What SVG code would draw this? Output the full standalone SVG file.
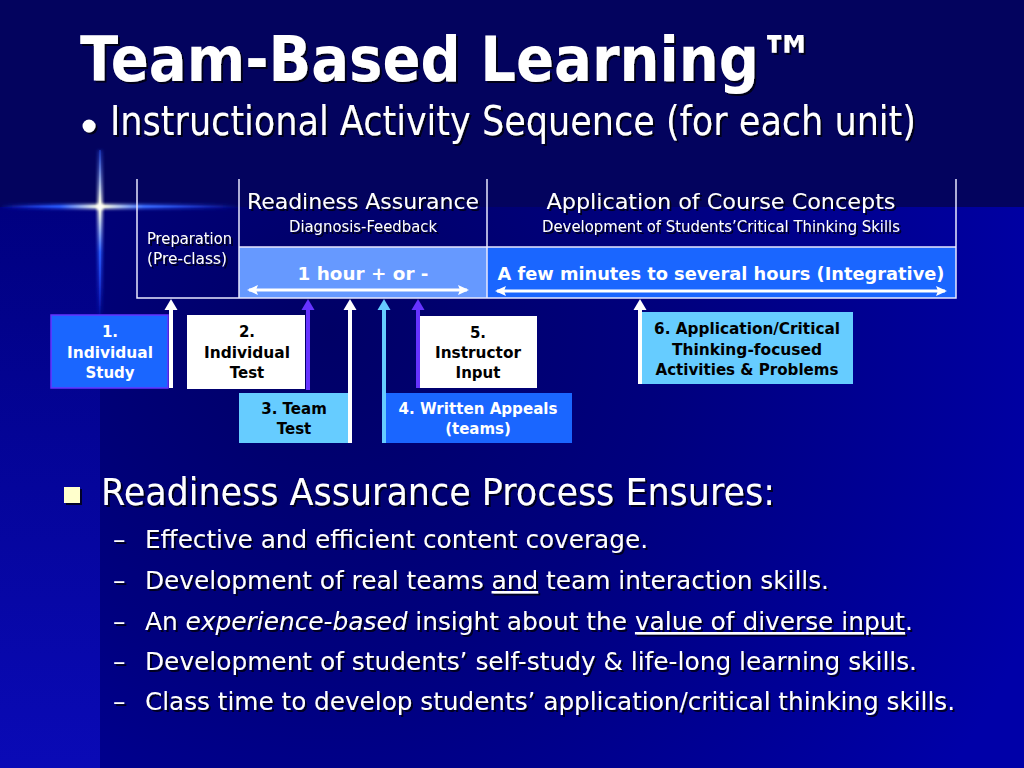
<svg xmlns="http://www.w3.org/2000/svg" width="1024" height="768" viewBox="0 0 1024 768">
<defs>
  <radialGradient id="maing" cx="330" cy="330" r="760" gradientUnits="userSpaceOnUse">
    <stop offset="0" stop-color="#000066"/>
    <stop offset="0.45" stop-color="#00007e"/>
    <stop offset="1" stop-color="#0000a8"/>
  </radialGradient>
  <linearGradient id="leftg" x1="0" y1="207" x2="0" y2="768" gradientUnits="userSpaceOnUse">
    <stop offset="0" stop-color="#000080"/>
    <stop offset="1" stop-color="#0a0ab6"/>
  </linearGradient>
  <linearGradient id="sparkH" x1="0" y1="0" x2="240" y2="0" gradientUnits="userSpaceOnUse">
    <stop offset="0" stop-color="#1a3cff" stop-opacity="0"/>
    <stop offset="0.25" stop-color="#2a5cff" stop-opacity="0.8"/>
    <stop offset="0.42" stop-color="#ffffe0"/>
    <stop offset="0.6" stop-color="#3a6cff" stop-opacity="0.8"/>
    <stop offset="1" stop-color="#1a3cff" stop-opacity="0"/>
  </linearGradient>
  <linearGradient id="sparkV" x1="0" y1="150" x2="0" y2="320" gradientUnits="userSpaceOnUse">
    <stop offset="0" stop-color="#2a5cff" stop-opacity="0.3"/>
    <stop offset="0.33" stop-color="#ffffe0"/>
    <stop offset="0.6" stop-color="#2a5cff" stop-opacity="0.8"/>
    <stop offset="1" stop-color="#1a3cff" stop-opacity="0"/>
  </linearGradient>
  <filter id="shadow" filterUnits="userSpaceOnUse" x="0" y="0" width="1024" height="768">
    <feDropShadow dx="2" dy="2" stdDeviation="0.6" flood-color="#000000" flood-opacity="0.75"/>
  </filter>
  <filter id="glow" x="-50%" y="-50%" width="200%" height="200%">
    <feGaussianBlur stdDeviation="1.5"/>
  </filter>
  <path id="ah" d="M-6.5,11 L0,0 L6.5,11 Z"/>
  <marker id="dbl" markerUnits="userSpaceOnUse" markerWidth="12" markerHeight="10" refX="9" refY="5" orient="auto-start-reverse">
    <path d="M0,0 L11,5 L0,10 L2,5 Z" fill="#ffffff"/>
  </marker>
</defs>
<style>
  .ttl { font-family: "DejaVu Sans", "Liberation Sans", sans-serif; fill: #ffffff; }
  .t { font-family: "DejaVu Sans", "Liberation Sans", sans-serif; fill: #ffffff; }
  .b { font-family: "DejaVu Sans", "Liberation Sans", sans-serif; font-weight: bold; }
  .wt { fill: #ffffff; }
  .bk { fill: #000000; }
  .tl { stroke: #e8e8ff; stroke-width: 1.5; fill: none; }
  .shaft { stroke-width: 4; fill: none; }
</style>

<!-- background -->
<rect width="1024" height="768" fill="#03035e"/>
<rect x="0" y="207" width="100" height="561" fill="url(#leftg)"/>
<rect x="100" y="207" width="924" height="561" fill="url(#maing)"/>

<!-- sparkle decoration -->
<g id="sparkle">
  <rect x="0" y="204" width="240" height="5" fill="url(#sparkH)" filter="url(#glow)"/>
  <rect x="0" y="205.5" width="240" height="2" fill="url(#sparkH)"/>
  <rect x="97.5" y="150" width="5" height="170" fill="url(#sparkV)" filter="url(#glow)"/>
  <rect x="99" y="150" width="2" height="170" fill="url(#sparkV)"/>
  <circle cx="100" cy="207" r="3" fill="#ffffff" filter="url(#glow)"/>
</g>

<!-- title -->
<g id="title" filter="url(#shadow)">
  <text class="ttl" x="80" y="81" font-size="63" font-weight="bold" textLength="735" lengthAdjust="spacingAndGlyphs">Team-Based Learning™</text>
  <circle cx="89" cy="126" r="6.5" fill="#ffffff"/>
  <text class="ttl" x="110" y="135" font-size="40" textLength="806" lengthAdjust="spacingAndGlyphs">Instructional Activity Sequence (for each unit)</text>
</g>

<!-- timeline table -->
<g id="table">
  <rect x="239" y="247" width="248" height="51" fill="#6699ff"/>
  <rect x="487" y="247" width="469" height="51" fill="#1a66ff"/>
  <path class="tl" d="M137,179 V298 H956 V179 M239,179 V298 M487,179 V298 M239,247 H956"/>
  <g filter="url(#shadow)">
    <text class="t" x="363" y="209" font-size="22" text-anchor="middle" textLength="232" lengthAdjust="spacingAndGlyphs">Readiness Assurance</text>
    <text class="t" x="363" y="232" font-size="15.5" text-anchor="middle" textLength="148" lengthAdjust="spacingAndGlyphs">Diagnosis-Feedback</text>
    <text class="t" x="721" y="209" font-size="22" text-anchor="middle" textLength="349" lengthAdjust="spacingAndGlyphs">Application of Course Concepts</text>
    <text class="t" x="721" y="232" font-size="15.5" text-anchor="middle" textLength="358" lengthAdjust="spacingAndGlyphs">Development of Students’Critical Thinking Skills</text>
    <text class="t" x="147" y="244" font-size="15.5" textLength="85" lengthAdjust="spacingAndGlyphs">Preparation</text>
    <text class="t" x="147" y="264" font-size="15.5" textLength="80" lengthAdjust="spacingAndGlyphs">(Pre-class)</text>
  </g>
  <text class="b wt" x="363" y="280" font-size="17.5" text-anchor="middle" textLength="131" lengthAdjust="spacingAndGlyphs">1 hour + or -</text>
  <text class="b wt" x="721" y="280" font-size="17.5" text-anchor="middle" textLength="447" lengthAdjust="spacingAndGlyphs">A few minutes to several hours (Integrative)</text>
  <line x1="249" y1="290" x2="467" y2="290" stroke="#ffffff" stroke-width="3" marker-start="url(#dbl)" marker-end="url(#dbl)"/>
  <line x1="497" y1="291" x2="945" y2="291" stroke="#ffffff" stroke-width="3" marker-start="url(#dbl)" marker-end="url(#dbl)"/>
</g>

<!-- connectors -->
<g id="connectors">
  <path class="shaft" d="M171,388 V309" stroke="#ffffff"/>
  <use href="#ah" x="171" y="299" fill="#ffffff"/>
  <path class="shaft" d="M308,390 V309" stroke="#6633ff"/>
  <use href="#ah" x="308" y="299" fill="#6633ff"/>
  <path class="shaft" d="M350,443 V309" stroke="#ffffff"/>
  <use href="#ah" x="350" y="299" fill="#ffffff"/>
  <path class="shaft" d="M384,443 V309" stroke="#66ccff"/>
  <use href="#ah" x="384" y="299" fill="#66ccff"/>
  <path class="shaft" d="M418,388 V309" stroke="#6633ff"/>
  <use href="#ah" x="418" y="299" fill="#6633ff"/>
  <path class="shaft" d="M640,384 V309" stroke="#ffffff"/>
  <use href="#ah" x="640" y="299" fill="#ffffff"/>
</g>

<!-- nodes -->
<g id="n1">
  <rect x="51" y="315" width="117" height="73" fill="#1a66ff" stroke="#6633ff" stroke-width="1.5"/>
  <text class="b wt" x="110" y="337" font-size="15" text-anchor="middle">1.</text>
  <text class="b wt" x="110" y="358" font-size="15" text-anchor="middle" textLength="86" lengthAdjust="spacingAndGlyphs">Individual</text>
  <text class="b wt" x="110" y="378" font-size="15" text-anchor="middle">Study</text>
</g>
<g id="n2">
  <rect x="187" y="315" width="118" height="74" fill="#ffffff"/>
  <text class="b bk" x="247" y="337" font-size="15" text-anchor="middle">2.</text>
  <text class="b bk" x="247" y="358" font-size="15" text-anchor="middle" textLength="86" lengthAdjust="spacingAndGlyphs">Individual</text>
  <text class="b bk" x="247" y="378" font-size="15" text-anchor="middle">Test</text>
</g>
<g id="n3">
  <rect x="239" y="393" width="109" height="50" fill="#66ccff"/>
  <text class="b bk" x="294" y="414" font-size="15" text-anchor="middle">3. Team</text>
  <text class="b bk" x="294" y="434" font-size="15" text-anchor="middle">Test</text>
</g>
<g id="n4">
  <rect x="386" y="393" width="186" height="50" fill="#1a66ff"/>
  <text class="b wt" x="478" y="414" font-size="15" text-anchor="middle" textLength="159" lengthAdjust="spacingAndGlyphs">4. Written Appeals</text>
  <text class="b wt" x="478" y="434" font-size="15" text-anchor="middle">(teams)</text>
</g>
<g id="n5">
  <rect x="420" y="316" width="117" height="72" fill="#ffffff"/>
  <text class="b bk" x="478" y="338" font-size="15" text-anchor="middle">5.</text>
  <text class="b bk" x="478" y="358" font-size="15" text-anchor="middle" textLength="86" lengthAdjust="spacingAndGlyphs">Instructor</text>
  <text class="b bk" x="478" y="378" font-size="15" text-anchor="middle">Input</text>
</g>
<g id="n6">
  <rect x="642" y="312" width="211" height="72" fill="#66ccff"/>
  <text class="b bk" x="747" y="334" font-size="15" text-anchor="middle" textLength="186" lengthAdjust="spacingAndGlyphs">6. Application/Critical</text>
  <text class="b bk" x="747" y="355" font-size="15" text-anchor="middle" textLength="150" lengthAdjust="spacingAndGlyphs">Thinking-focused</text>
  <text class="b bk" x="747" y="375" font-size="15" text-anchor="middle" textLength="183" lengthAdjust="spacingAndGlyphs">Activities &amp; Problems</text>
</g>

<!-- bullets -->
<g id="bullets" filter="url(#shadow)">
  <rect x="64" y="487" width="16" height="16" fill="#ffffcc"/>
  <text class="t" x="101" y="505" font-size="37" textLength="674" lengthAdjust="spacingAndGlyphs">Readiness Assurance Process Ensures:</text>
  <text class="t" x="113" y="548" font-size="25">–</text>
  <text class="t" x="145" y="548" font-size="25" textLength="503" lengthAdjust="spacingAndGlyphs">Effective and efficient content coverage.</text>
  <text class="t" x="113" y="589" font-size="25">–</text>
  <text class="t" x="145" y="589" font-size="25" textLength="684" lengthAdjust="spacingAndGlyphs">Development of real teams <tspan text-decoration="underline">and</tspan> team interaction skills.</text>
  <text class="t" x="113" y="630" font-size="25">–</text>
  <text class="t" x="145" y="630" font-size="25" textLength="768" lengthAdjust="spacingAndGlyphs">An <tspan font-style="italic">experience-based</tspan> insight about the <tspan text-decoration="underline">value of diverse input</tspan>.</text>
  <text class="t" x="113" y="670" font-size="25">–</text>
  <text class="t" x="145" y="670" font-size="25" textLength="772" lengthAdjust="spacingAndGlyphs">Development of students’ self-study &amp; life-long learning skills.</text>
  <text class="t" x="113" y="710" font-size="25">–</text>
  <text class="t" x="145" y="710" font-size="25" textLength="810" lengthAdjust="spacingAndGlyphs">Class time to develop students’ application/critical thinking skills.</text>
</g>
</svg>
